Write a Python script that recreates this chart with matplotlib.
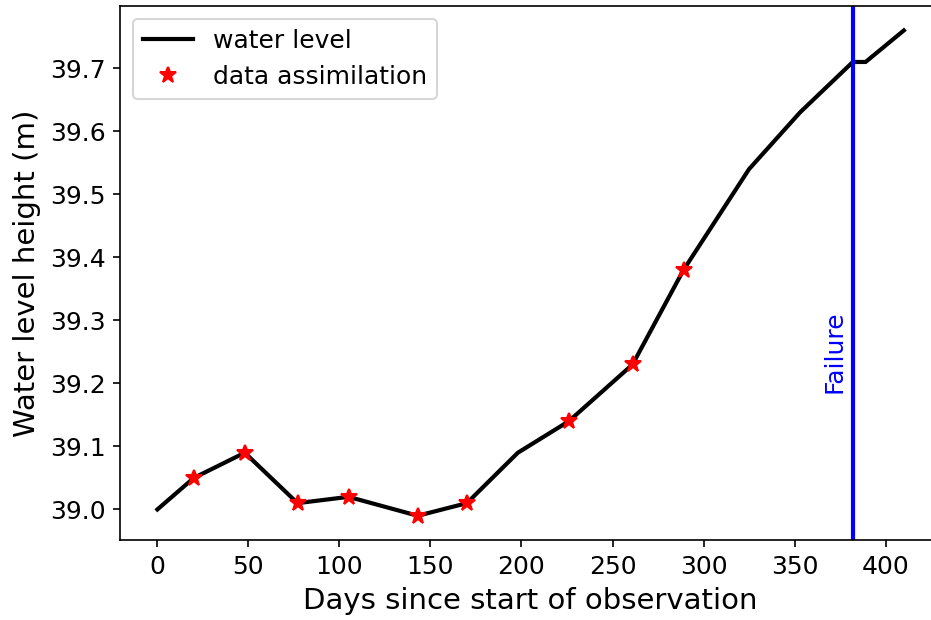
import numpy as np
import matplotlib
matplotlib.use('Agg')
import matplotlib.pyplot as plt

# water level series (days, height in m)
days = [0, 20, 48, 77, 105, 143, 170, 198, 226, 261, 289, 325, 353, 382, 389, 410]
level = [39.00, 39.05, 39.09, 39.01, 39.02, 38.99, 39.01, 39.09, 39.14, 39.23,
         39.38, 39.54, 39.63, 39.71, 39.71, 39.76]

# days where data assimilation happened
da_days = [20, 48, 77, 105, 143, 170, 226, 261, 289]
da_level = [39.05, 39.09, 39.01, 39.02, 38.99, 39.01, 39.14, 39.23, 39.38]

failure_day = 382
x_ticks = np.arange(0, 401, 50)

fig = plt.figure(figsize=(932 / 150, 620 / 150), dpi=150)
ax = fig.add_axes([0.1288, 0.129, 0.881, 0.861])

ax.plot(days, level, color='black', linewidth=2, label='water level')
ax.plot(da_days, da_level, '*', color='red', markersize=8, label='data assimilation')
ax.axvline(failure_day, color='blue', linewidth=2)
ax.text(failure_day - 10, 39.25, 'Failure', rotation=90, color='blue',
        ha='center', va='center', fontsize=12)

ax.set_xticks(x_ticks)
ax.set_xlabel('Days since start of observation', fontsize=14)
ax.set_ylabel('Water level height (m)', fontsize=14)
ax.tick_params(labelsize=12)
ax.legend(loc='upper left', fontsize=12)

fig.savefig('out.png', dpi=150)
